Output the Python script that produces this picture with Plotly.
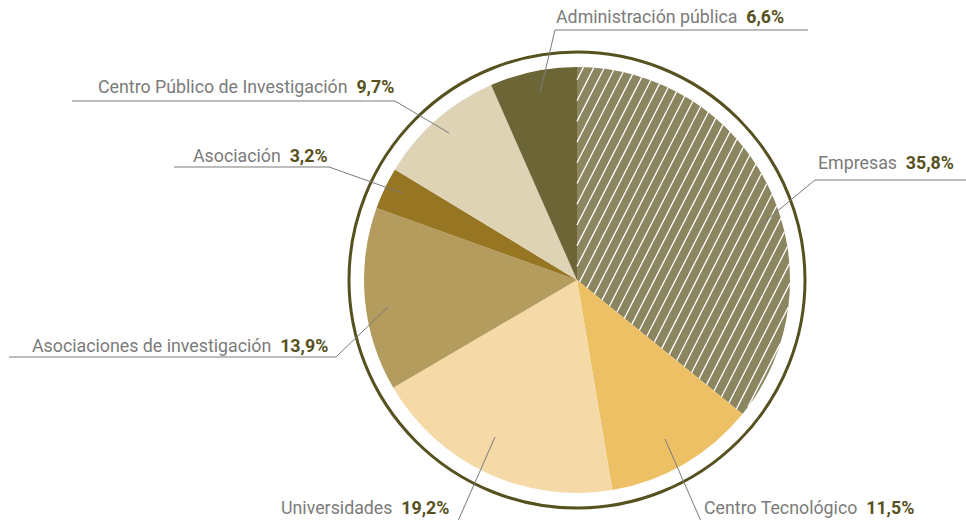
import math
import plotly.graph_objects as go

# ------------------------------------------------------------
# Datos
# ------------------------------------------------------------
categorias = [
    "Empresas",
    "Centro Tecnológico",
    "Universidades",
    "Asociaciones de investigación",
    "Asociación",
    "Centro Público de Investigación",
    "Administración pública",
]
porcentajes = [35.8, 11.5, 19.2, 13.9, 3.2, 9.7, 6.6]
etiquetas_valor = ["35,8%", "11,5%", "19,2%", "13,9%", "3,2%", "9,7%", "6,6%"]

COLORES = ["#8c8660", "#eec065", "#f5d9a6", "#b49c5e", "#977623", "#ded3b5", "#6c6535"]
GRIS_TEXTO = "#7b7b7b"
OLIVA = "#575120"
GRIS_LINEA = "#7a7a7a"
FUENTE = "Roboto"

W, H = 966, 520
CX, CY, R = 577, 280, 213   # centro y radio de la tarta (px)
R_ARO = 228                  # aro exterior


def px(x):
    return x / W


def py(y):
    return 1 - y / H


fig = go.Figure()
fig.add_trace(go.Pie(
    labels=categorias,
    values=porcentajes,
    sort=False,
    direction="clockwise",
    rotation=0,
    textinfo="none",
    hoverinfo="label+percent",
    marker=dict(colors=COLORES, line=dict(width=0)),
    domain=dict(x=[px(CX - R), px(CX + R)], y=[py(CY + R), py(CY - R)]),
    showlegend=False,
))

shapes = []

# aro exterior
shapes.append(dict(
    type="circle", xref="paper", yref="paper", layer="above",
    x0=px(CX - R_ARO), x1=px(CX + R_ARO), y0=py(CY + R_ARO), y1=py(CY - R_ARO),
    line=dict(color=OLIVA, width=3),
))

# rayado de "Empresas" (primer sector)
theta1 = 2 * math.pi * porcentajes[0] / sum(porcentajes)
alfa = math.radians(63)
d = (math.cos(alfa), -math.sin(alfa))     # dirección de las líneas (pantalla)
m = (math.sin(alfa), math.cos(alfa))      # normal
normales = [(1.0, 0.0), (-math.cos(theta1), -math.sin(theta1))]
paso = 9.4
path = ""
k = -R
while k <= R:
    p0 = (CX + k * m[0], CY + k * m[1])
    disc = R * R - k * k
    if disc > 0:
        t_lo, t_hi = -math.sqrt(disc), math.sqrt(disc)
        for n in normales:
            a = (p0[0] - CX) * n[0] + (p0[1] - CY) * n[1]
            b = d[0] * n[0] + d[1] * n[1]
            if abs(b) < 1e-9:
                if a < 0:
                    t_lo, t_hi = 1, 0
            elif b > 0:
                t_lo = max(t_lo, -a / b)
            else:
                t_hi = min(t_hi, -a / b)
        if t_hi - t_lo > 0.5:
            xa, ya = p0[0] + t_lo * d[0], p0[1] + t_lo * d[1]
            xb, yb = p0[0] + t_hi * d[0], p0[1] + t_hi * d[1]
            path += f"M{px(xa):.5f},{py(ya):.5f} L{px(xb):.5f},{py(yb):.5f} "
    k += paso
shapes.append(dict(
    type="path", xref="paper", yref="paper", layer="above", path=path,
    line=dict(color="white", width=1.3),
))

# líneas guía: (puntos en px)
guias = [
    [(966, 180), (815, 180), (757, 228)],          # Empresas
    [(665, 439), (701, 521)],                      # Centro Tecnológico
    [(495, 437), (458, 521)],                      # Universidades
    [(9, 357), (336, 357), (388, 307)],            # Asociaciones de investigación
    [(174, 167), (329, 167), (402, 193)],          # Asociación
    [(72, 101), (395, 101), (449, 133)],           # Centro Público
    [(808, 30), (555, 30), (540, 93)],             # Administración pública
]
for pts in guias:
    p = "M" + " L".join(f"{px(x):.5f},{py(y):.5f}" for x, y in pts)
    shapes.append(dict(
        type="path", xref="paper", yref="paper", layer="above", path=p,
        line=dict(color=GRIS_LINEA, width=1),
    ))

# posiciones de los textos: (x, y, anclaje)
pos_texto = [
    (816, 162, "left"),
    (702, 507, "left"),
    (451, 507, "right"),
    (330, 345, "right"),
    (330, 155, "right"),
    (396, 87, "right"),
    (554, 16, "left"),
]
annotations = []
for cat, val, (x, y, anc) in zip(categorias, etiquetas_valor, pos_texto):
    annotations.append(dict(
        xref="paper", yref="paper", x=px(x), y=py(y),
        xanchor=anc, yanchor="middle", showarrow=False,
        text=f"{cat}&nbsp;&nbsp;<span style='color:{OLIVA}'><b>{val}</b></span>",
        font=dict(family=FUENTE, size=17.8, color=GRIS_TEXTO),
    ))

fig.update_layout(
    width=W, height=H,
    margin=dict(l=0, r=0, t=0, b=0),
    paper_bgcolor="white",
    plot_bgcolor="white",
    shapes=shapes,
    annotations=annotations,
)

# sin margen del body para que el gráfico ocupe la ventana
fig.write_html(
    "out.html",
    config={"displayModeBar": False},
    post_script="document.body.style.margin='0';",
)
